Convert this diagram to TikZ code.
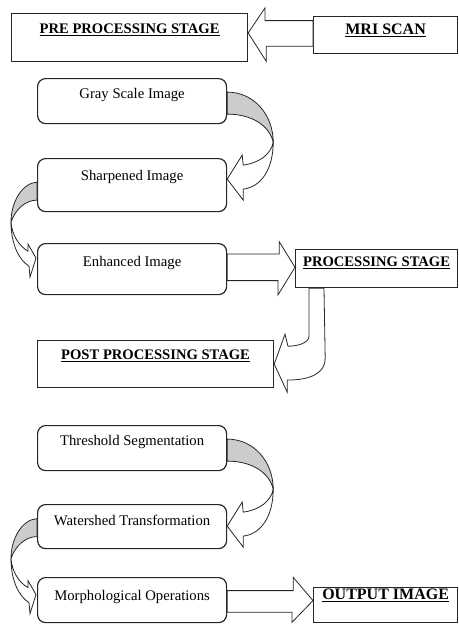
\documentclass[tikz,border=0pt]{standalone}
\usepackage{fontspec}
\setmainfont{Liberation Serif}
\usetikzlibrary{calc}

\tikzset{
  stagebox/.style={draw=black!85, line width=1.2pt, anchor=north west, inner sep=0pt,
    font=\fontsize{14.6}{16}\selectfont\bfseries},
  imgbox/.style={stagebox, rounded corners=8pt, font=\fontsize{14.7}{16}\selectfont},
  fat/.style={draw=black!85, line width=0.8pt, fill=white},
  % curved arrow on the right side, set at the east anchor of its box
  bendR/.pic={
    \draw[fat, fill=gray!40] (0,-9) .. controls (27,-9) and (46,14) .. (46,41)
      .. controls (42,24) and (24,13) .. (0,13) -- cycle;
    \draw[fat] (46,41) .. controls (46,68) and (34,86) .. (16,88) -- (16,99) -- (0,78)
      -- (15,54) -- (16,64) .. controls (32,62) and (44,53) .. (46,41) -- cycle;
  },
  % curved arrow on the left side, set at the west anchor of its box
  bendL/.pic={
    \draw[fat, fill=gray!40] (0,-6) .. controls (-15,-5) and (-26,14) .. (-26,34)
      .. controls (-22,22) and (-12,12) .. (0,12) -- cycle;
    \draw[fat] (-26,34) .. controls (-26,56) and (-18,72) .. (-8,78) -- (-7,89) -- (-1,70)
      -- (-9,56) -- (-9,63) .. controls (-18,58) and (-25,47) .. (-26,34) -- cycle;
  }
}

\begin{document}
\begin{tikzpicture}[x=1pt,y=-1pt]
  \useasboundingbox (0,0) rectangle (458,624);

  % stages
  \node[stagebox, minimum width=236pt, text height=20pt, text depth=28pt] (pre) at (11,13) {\underline{PRE PROCESSING STAGE}};
  \node[stagebox, minimum width=144pt, text height=18pt, text depth=19pt, font=\fontsize{16}{18}\selectfont\bfseries] (mri) at (313,16) {\underline{MRI SCAN}};
  \node[stagebox, minimum width=162pt, text height=17pt, text depth=21pt] (proc) at (295,249) {\underline{PROCESSING STAGE}};
  \node[stagebox, minimum width=236pt, text height=19pt, text depth=28pt] (post) at (37,340) {\underline{POST PROCESSING STAGE}};
  \node[stagebox, minimum width=144pt, text height=12pt, text depth=23pt, font=\fontsize{16}{18}\selectfont\bfseries] (out) at (313,587) {\underline{OUTPUT IMAGE}};

  % image steps
  \node[imgbox, minimum width=189pt, text height=20pt, text depth=25pt] (gray) at (37,78) {Gray Scale Image};
  \node[imgbox, minimum width=189pt, text height=22pt, text depth=31pt] (sharp) at (37,158) {Sharpened Image};
  \node[imgbox, minimum width=189pt, text height=23pt, text depth=28pt] (enh) at (37,243) {Enhanced Image};
  \node[imgbox, minimum width=189pt, text height=20pt, text depth=25pt] (thresh) at (37,425) {Threshold Segmentation};
  \node[imgbox, minimum width=189pt, text height=21pt, text depth=23pt] (water) at (37,504) {Watershed Transformation};
  \node[imgbox, minimum width=189pt, text height=23pt, text depth=22pt] (morph) at (37,577) {Morphological Operations};

  % block arrows
  \draw[fat] ($(mri.west)+(0,-14.5)$) -- ++(-48,0) -- ++(0,-12.7) -- ($(pre.east)+(0,-4.7)$)
    -- ++(18,28.4) -- ++(0,-15) -- ($(mri.west)+(0,11.2)$) -- cycle;
  \draw[fat] ($(enh.east)+(0,-15.2)$) -- ++(52,0) -- ++(0,-12.3) -- ($(proc.west)+(0,-1.3)$)
    -- ++(-17,27.6) -- ++(0,-14.3) -- ($(enh.east)+(0,11.5)$) -- cycle;
  \draw[fat] ($(morph.east)+(0,-9.5)$) -- ++(66,0) -- ++(0,-13.3) -- ($(out.west)+(0,-4.5)$)
    -- ++(-21,21.7) -- ++(0,-10) -- ($(morph.east)+(0,12.2)$) -- cycle;
  \draw[fat] ($(proc.south west)+(14,0)$) -- ++(0,48) .. controls +(0,7) and +(9,0) .. ++(-21,10)
    -- ++(-3,-12) -- (post.east) -- ++(13,28) -- ++(0,-12)
    .. controls +(24,0) and +(0,14) .. ++(38,-21.5) -- ($(proc.south west)+(29,0)$) -- cycle;

  % curved arrows
  \pic at (gray.east) {bendR};
  \pic at ([yshift=-3pt]sharp.west) {bendL};
  \pic at (thresh.east) {bendR};
  \pic at ([yshift=2pt]water.west) {bendL};
\end{tikzpicture}
\end{document}
